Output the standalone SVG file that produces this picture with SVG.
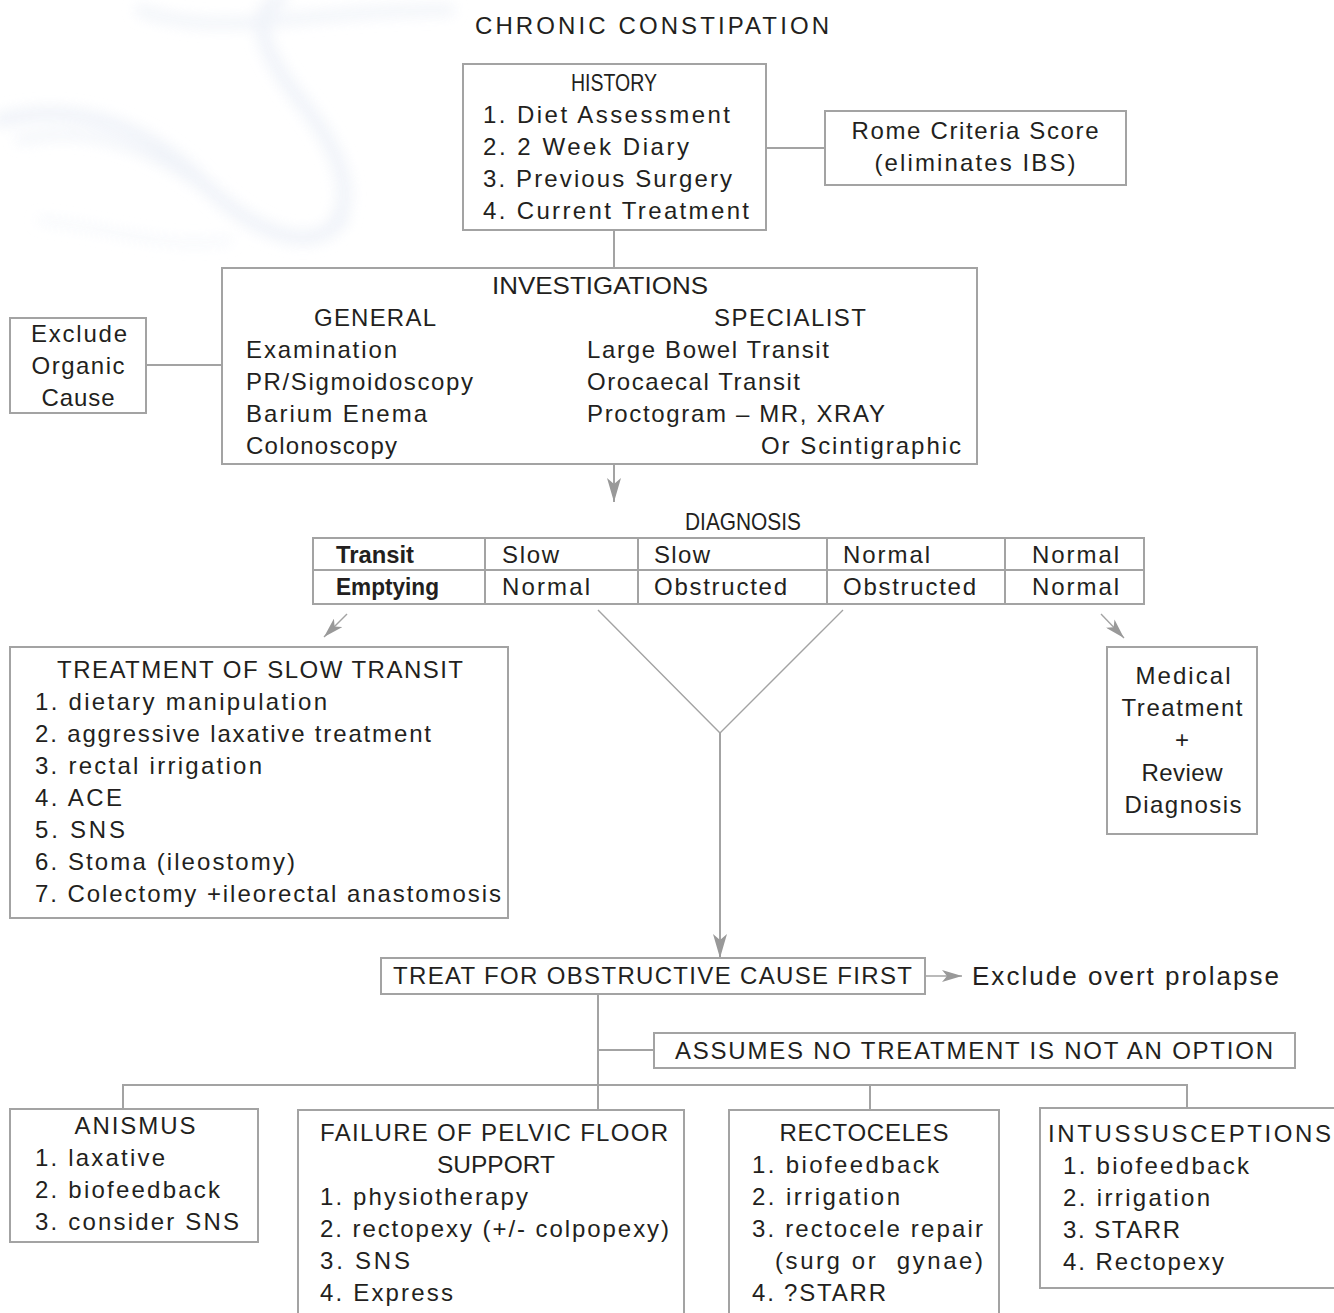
<svg xmlns="http://www.w3.org/2000/svg" width="1334" height="1313" viewBox="0 0 1334 1313">
<style>
text{font-family:"Liberation Sans",Arial,sans-serif;font-size:24px;fill:#231f20}
.c{text-anchor:middle}
.b{font-weight:bold}
.box{fill:none;stroke:#a3a3a3;stroke-width:2}
.ln{fill:none;stroke:#a3a3a3;stroke-width:2}
.th{fill:none;stroke:#a3a3a3;stroke-width:1.4}
</style>
<defs>
<marker id="ah" markerUnits="userSpaceOnUse" viewBox="0 0 24 14" markerWidth="24" markerHeight="14" refX="24" refY="7" orient="auto">
<path d="M0,0 L24,7 L0,14 L6,7 z" fill="#999"/>
</marker>
<marker id="ahs" markerUnits="userSpaceOnUse" viewBox="0 0 20 12" markerWidth="20" markerHeight="12" refX="20" refY="6" orient="auto">
<path d="M0,0 L20,6 L0,12 L5,6 z" fill="#999"/>
</marker>
<filter id="blur" x="-20%" y="-20%" width="140%" height="140%"><feGaussianBlur stdDeviation="7"/></filter>
</defs>
<rect width="1334" height="1313" fill="#fff"/>
<g id="watermark" filter="url(#blur)" fill="none" stroke="#edf1f8" stroke-linecap="round" opacity="0.85">
<path d="M0,120 C80,100 150,130 200,180 C250,230 300,250 330,230 C360,200 340,150 300,100 C260,50 250,10 280,0" stroke-width="14"/>
<path d="M20,140 C100,120 170,160 220,200 C270,240 320,250 345,220" stroke-width="8"/>
<path d="M140,10 C220,40 300,10 450,10" stroke-width="10"/>
<path d="M40,220 C120,230 170,250 230,240" stroke-width="6" stroke="#f2f5fa"/>
</g>

<text id="title" x="475" y="34" textLength="354" lengthAdjust="spacing">CHRONIC CONSTIPATION</text>

<g id="connectors">
<line class="ln" x1="766" y1="148" x2="825" y2="148"/>
<line class="ln" x1="614" y1="230" x2="614" y2="268"/>
<line class="ln" x1="146" y1="365" x2="222" y2="365"/>
<line class="ln" x1="614" y1="464" x2="614" y2="502" marker-end="url(#ah)"/>
<line class="th" x1="347" y1="614" x2="324" y2="637" marker-end="url(#ahs)"/>
<line class="th" x1="1101" y1="614" x2="1124" y2="638" marker-end="url(#ahs)"/>
<polyline class="th" points="598,610 720,733 843,610"/>
<line class="ln" x1="720" y1="733" x2="720" y2="958" marker-end="url(#ah)"/>
<line class="th" x1="925" y1="976" x2="962" y2="976" marker-end="url(#ahs)"/>
<line class="ln" x1="598" y1="994" x2="598" y2="1110"/>
<line class="ln" x1="598" y1="1050" x2="654" y2="1050"/>
<polyline class="ln" points="123,1109 123,1085 1187,1085 1187,1108"/>
<line class="ln" x1="870" y1="1085" x2="870" y2="1110"/>
</g>

<g id="history">
<rect class="box" x="463" y="64" width="303" height="166"/>
<text class="c" x="614" y="91" textLength="86" lengthAdjust="spacingAndGlyphs">HISTORY</text>
<text x="483" y="123" textLength="247" lengthAdjust="spacing">1. Diet Assessment</text>
<text x="483" y="155" textLength="206" lengthAdjust="spacing">2. 2 Week Diary</text>
<text x="483" y="187" textLength="249" lengthAdjust="spacing">3. Previous Surgery</text>
<text x="483" y="219" textLength="266" lengthAdjust="spacing">4. Current Treatment</text>
</g>

<g id="rome">
<rect class="box" x="825" y="111" width="301" height="74"/>
<text class="c" x="975" y="139" textLength="247" lengthAdjust="spacing">Rome Criteria Score</text>
<text class="c" x="975" y="171" textLength="201" lengthAdjust="spacing">(eliminates IBS)</text>
</g>

<g id="investigations">
<rect class="box" x="222" y="268" width="755" height="196"/>
<text class="c" x="600" y="294" textLength="216" lengthAdjust="spacingAndGlyphs">INVESTIGATIONS</text>
<text class="c" x="375" y="326" textLength="122" lengthAdjust="spacing">GENERAL</text>
<text class="c" x="790" y="326" textLength="152" lengthAdjust="spacing">SPECIALIST</text>
<text x="246" y="358" textLength="151" lengthAdjust="spacing">Examination</text>
<text x="246" y="390" textLength="227" lengthAdjust="spacing">PR/Sigmoidoscopy</text>
<text x="246" y="422" textLength="181" lengthAdjust="spacing">Barium Enema</text>
<text x="246" y="454" textLength="151" lengthAdjust="spacing">Colonoscopy</text>
<text x="587" y="358" textLength="242" lengthAdjust="spacing">Large Bowel Transit</text>
<text x="587" y="390" textLength="213" lengthAdjust="spacing">Orocaecal Transit</text>
<text x="587" y="422" textLength="298" lengthAdjust="spacing">Proctogram – MR, XRAY</text>
<text x="761" y="454" textLength="200" lengthAdjust="spacing">Or Scintigraphic</text>
</g>

<g id="exclude-organic">
<rect class="box" x="10" y="318" width="136" height="95"/>
<text class="c" x="79" y="342" textLength="96" lengthAdjust="spacing">Exclude</text>
<text class="c" x="78" y="374" textLength="93" lengthAdjust="spacing">Organic</text>
<text class="c" x="78" y="406" textLength="73" lengthAdjust="spacing">Cause</text>
</g>

<g id="diagnosis">
<text class="c" x="743" y="530" textLength="116" lengthAdjust="spacingAndGlyphs">DIAGNOSIS</text>
<rect class="box" x="313" y="538" width="831" height="66"/>
<line class="box" x1="313" y1="570" x2="1144" y2="570"/>
<line class="box" x1="485" y1="538" x2="485" y2="604"/>
<line class="box" x1="638" y1="538" x2="638" y2="604"/>
<line class="box" x1="827" y1="538" x2="827" y2="604"/>
<line class="box" x1="1005" y1="538" x2="1005" y2="604"/>
<text class="b" x="336" y="563" textLength="78" lengthAdjust="spacingAndGlyphs">Transit</text>
<text class="b" x="336" y="595" textLength="103" lengthAdjust="spacingAndGlyphs">Emptying</text>
<text x="502" y="563" textLength="57" lengthAdjust="spacing">Slow</text>
<text x="502" y="595" textLength="88" lengthAdjust="spacing">Normal</text>
<text x="654" y="563" textLength="56" lengthAdjust="spacing">Slow</text>
<text x="654" y="595" textLength="133" lengthAdjust="spacing">Obstructed</text>
<text x="843" y="563" textLength="87" lengthAdjust="spacing">Normal</text>
<text x="843" y="595" textLength="133" lengthAdjust="spacing">Obstructed</text>
<text x="1032" y="563" textLength="87" lengthAdjust="spacing">Normal</text>
<text x="1032" y="595" textLength="87" lengthAdjust="spacing">Normal</text>
</g>

<g id="slow-transit">
<rect class="box" x="10" y="647" width="498" height="271"/>
<text x="57" y="678" textLength="406" lengthAdjust="spacing">TREATMENT OF SLOW TRANSIT</text>
<text x="35" y="710" textLength="292" lengthAdjust="spacing">1. dietary manipulation</text>
<text x="35" y="742" textLength="396" lengthAdjust="spacing">2. aggressive laxative treatment</text>
<text x="35" y="774" textLength="227" lengthAdjust="spacing">3. rectal irrigation</text>
<text x="35" y="806" textLength="87" lengthAdjust="spacing">4. ACE</text>
<text x="35" y="838" textLength="90" lengthAdjust="spacing">5. SNS</text>
<text x="35" y="870" textLength="260" lengthAdjust="spacing">6. Stoma (ileostomy)</text>
<text x="35" y="902" textLength="466" lengthAdjust="spacing">7. Colectomy +ileorectal anastomosis</text>
</g>

<g id="medical">
<rect class="box" x="1107" y="647" width="150" height="187"/>
<text class="c" x="1183" y="684" textLength="95" lengthAdjust="spacing">Medical</text>
<text class="c" x="1182" y="716" textLength="121" lengthAdjust="spacing">Treatment</text>
<text class="c" x="1182" y="748">+</text>
<text class="c" x="1182" y="781" textLength="81" lengthAdjust="spacing">Review</text>
<text class="c" x="1183" y="813" textLength="117" lengthAdjust="spacing">Diagnosis</text>
</g>

<g id="obstructive">
<rect class="box" x="381" y="958" width="544" height="36"/>
<text x="393" y="984" textLength="519" lengthAdjust="spacing">TREAT FOR OBSTRUCTIVE CAUSE FIRST</text>
</g>

<text id="prolapse" x="972" y="985" style="font-size:26px" textLength="307" lengthAdjust="spacing">Exclude overt prolapse</text>

<g id="assumes">
<rect class="box" x="654" y="1033" width="641" height="35"/>
<text x="675" y="1059" textLength="598" lengthAdjust="spacing">ASSUMES NO TREATMENT IS NOT AN OPTION</text>
</g>

<g id="anismus">
<rect class="box" x="10" y="1109" width="248" height="133"/>
<text class="c" x="135" y="1134" textLength="121" lengthAdjust="spacing">ANISMUS</text>
<text x="35" y="1166" textLength="130" lengthAdjust="spacing">1. laxative</text>
<text x="35" y="1198" textLength="185" lengthAdjust="spacing">2. biofeedback</text>
<text x="35" y="1230" textLength="204" lengthAdjust="spacing">3. consider SNS</text>
</g>

<g id="pelvic-floor">
<rect class="box" x="298" y="1110" width="386" height="215"/>
<text class="c" x="494" y="1141" textLength="348" lengthAdjust="spacing">FAILURE OF PELVIC FLOOR</text>
<text class="c" x="496" y="1173" textLength="118" lengthAdjust="spacingAndGlyphs">SUPPORT</text>
<text x="320" y="1205" textLength="208" lengthAdjust="spacing">1. physiotherapy</text>
<text x="320" y="1237" textLength="349" lengthAdjust="spacing">2. rectopexy (+/- colpopexy)</text>
<text x="320" y="1269" textLength="90" lengthAdjust="spacing">3. SNS</text>
<text x="320" y="1301" textLength="133" lengthAdjust="spacing">4. Express</text>
</g>

<g id="rectoceles">
<rect class="box" x="729" y="1110" width="270" height="215"/>
<text class="c" x="864" y="1141" textLength="169" lengthAdjust="spacing">RECTOCELES</text>
<text x="752" y="1173" textLength="187" lengthAdjust="spacing">1. biofeedback</text>
<text x="752" y="1205" textLength="148" lengthAdjust="spacing">2. irrigation</text>
<text x="752" y="1237" textLength="231" lengthAdjust="spacing">3. rectocele repair</text>
<text x="775" y="1269" textLength="208" lengthAdjust="spacing" xml:space="preserve">(surg or  gynae)</text>
<text x="752" y="1301" textLength="134" lengthAdjust="spacing">4. ?STARR</text>
</g>

<g id="intussusceptions">
<rect class="box" x="1040" y="1108" width="310" height="180"/>
<text x="1048" y="1142" textLength="283" lengthAdjust="spacing">INTUSSUSCEPTIONS</text>
<text x="1063" y="1174" textLength="186" lengthAdjust="spacing">1. biofeedback</text>
<text x="1063" y="1206" textLength="147" lengthAdjust="spacing">2. irrigation</text>
<text x="1063" y="1238" textLength="117" lengthAdjust="spacing">3. STARR</text>
<text x="1063" y="1270" textLength="161" lengthAdjust="spacing">4. Rectopexy</text>
</g>
</svg>
